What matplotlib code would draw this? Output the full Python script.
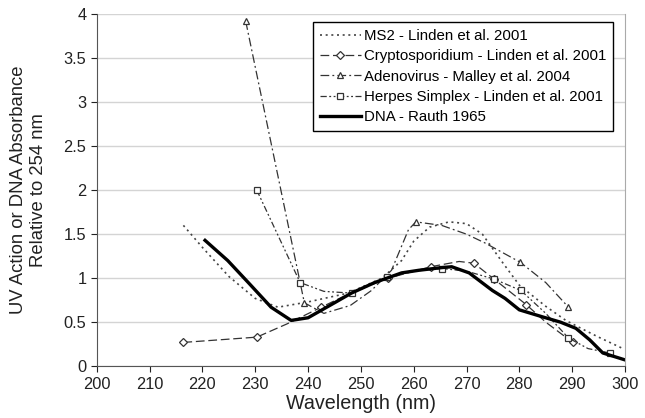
import matplotlib
matplotlib.use('Agg')
import matplotlib.pyplot as plt

plt.rcParams['font.family'] = ['Liberation Sans', 'DejaVu Sans']

# Values
ms2_x = [216.4, 220, 225, 230, 234.3, 240, 247.6, 254, 257.7, 260, 263, 266.7, 270, 273, 276.8, 280, 285, 288.8, 292, 295, 299.6]
ms2_y = [1.6, 1.35, 1.02, 0.77, 0.67, 0.73, 0.83, 1.0, 1.2, 1.42, 1.58, 1.64, 1.62, 1.5, 1.18, 0.92, 0.68, 0.52, 0.42, 0.33, 0.2]

crypto_x = [216.4, 230.3, 236, 242.5, 248, 255.2, 263.2, 268.6, 271.4, 275.2, 281.3, 285, 290.1]
crypto_y = [0.27, 0.33, 0.48, 0.67, 0.83, 1.0, 1.13, 1.19, 1.17, 0.99, 0.70, 0.5, 0.27]
crypto_marks = [0, 1, 3, 5, 6, 8, 9, 10, 12]

adeno_x = [228.2, 239.3, 243, 248, 252, 255.8, 259, 260.4, 265.3, 270, 273.5, 280.2, 285, 289.3]
adeno_y = [3.92, 0.72, 0.6, 0.69, 0.86, 1.09, 1.55, 1.64, 1.6, 1.5, 1.4, 1.18, 0.95, 0.67]
adeno_marks = [0, 1, 7, 11, 13]

herpes_x = [230.3, 238.5, 243, 248.4, 254.9, 260, 265.3, 270, 275.2, 280.3, 285, 289.3, 293, 297.1]
herpes_y = [2.0, 0.95, 0.85, 0.83, 1.01, 1.08, 1.11, 1.08, 0.99, 0.86, 0.6, 0.32, 0.2, 0.15]
herpes_marks = [0, 1, 3, 4, 6, 8, 9, 11, 13]

dna_x = [220.5, 224.8, 229, 233, 236.8, 240, 245, 248.2, 252.6, 257.7, 261, 265.3, 267.2, 270.5, 274.9, 277.3, 280, 284.4, 287.8, 290.7, 293.3, 295.8, 300.6]
dna_y = [1.43, 1.2, 0.93, 0.67, 0.52, 0.55, 0.72, 0.83, 0.95, 1.06, 1.09, 1.12, 1.13, 1.06, 0.86, 0.77, 0.64, 0.56, 0.5, 0.43, 0.3, 0.15, 0.06]

x_ticks = list(range(200, 301, 10))
y_ticks = [0, 0.5, 1, 1.5, 2, 2.5, 3, 3.5, 4]
y_labels = ['0', '0.5', '1', '1.5', '2', '2.5', '3', '3.5', '4']

fig = plt.figure(figsize=(6.45, 4.18), dpi=100)
ax = fig.add_axes([0.150, 0.124, 0.819, 0.842])

lc = '#333333'
mk = dict(markerfacecolor='white', markeredgecolor='#333333', markersize=5, markeredgewidth=0.9)

ax.plot(ms2_x, ms2_y, color='#444444', lw=1.2, linestyle=(0, (1.2, 2.2)),
        label='MS2 - Linden et al. 2001')
ax.plot(crypto_x, crypto_y, color=lc, lw=0.9, linestyle=(0, (7, 3)), marker='D',
        markevery=crypto_marks, label='Cryptosporidium - Linden et al. 2001', **dict(mk, markersize=4.5))
ax.plot(adeno_x, adeno_y, color=lc, lw=0.9, linestyle=(0, (7, 2.5, 1.5, 2.5)), marker='^',
        markevery=adeno_marks, label='Adenovirus - Malley et al. 2004', **mk)
ax.plot(herpes_x, herpes_y, color=lc, lw=0.9, linestyle=(0, (5, 2, 1.5, 2, 1.5, 2)), marker='s',
        markevery=herpes_marks, label='Herpes Simplex - Linden et al. 2001', **mk)
ax.plot(dna_x, dna_y, color='black', lw=2.4, label='DNA - Rauth 1965')

ax.set_xlim(200, 300)
ax.set_ylim(0, 4)
ax.set_xticks(x_ticks)
ax.set_yticks(y_ticks)
ax.set_yticklabels(y_labels)
ax.tick_params(labelsize=11.8, colors='#222222', length=4, direction='out')
ax.yaxis.grid(True, color='#d4d4d4', lw=1)
ax.set_axisbelow(True)
ax.spines['top'].set_visible(False)
ax.spines['right'].set_color('#aaaaaa')
ax.spines['left'].set_color('#555555')
ax.spines['bottom'].set_color('#555555')

ax.set_xlabel('Wavelength (nm)', fontsize=14.2, color='#222222', labelpad=2)
ax.set_ylabel('UV Action or DNA Absorbance\nRelative to 254 nm', fontsize=13.3,
              color='#222222', linespacing=1.2)
ax.yaxis.set_label_coords(-0.095, 0.5)

leg = ax.legend(loc='upper right', bbox_to_anchor=(0.977, 0.977), borderaxespad=0,
                fontsize=10.8, frameon=True, fancybox=False, edgecolor='black', framealpha=1,
                handlelength=2.7, handletextpad=0.2, labelspacing=0.42, borderpad=0.45)
leg.get_frame().set_linewidth(1.0)

fig.savefig('out.png', dpi=100)
